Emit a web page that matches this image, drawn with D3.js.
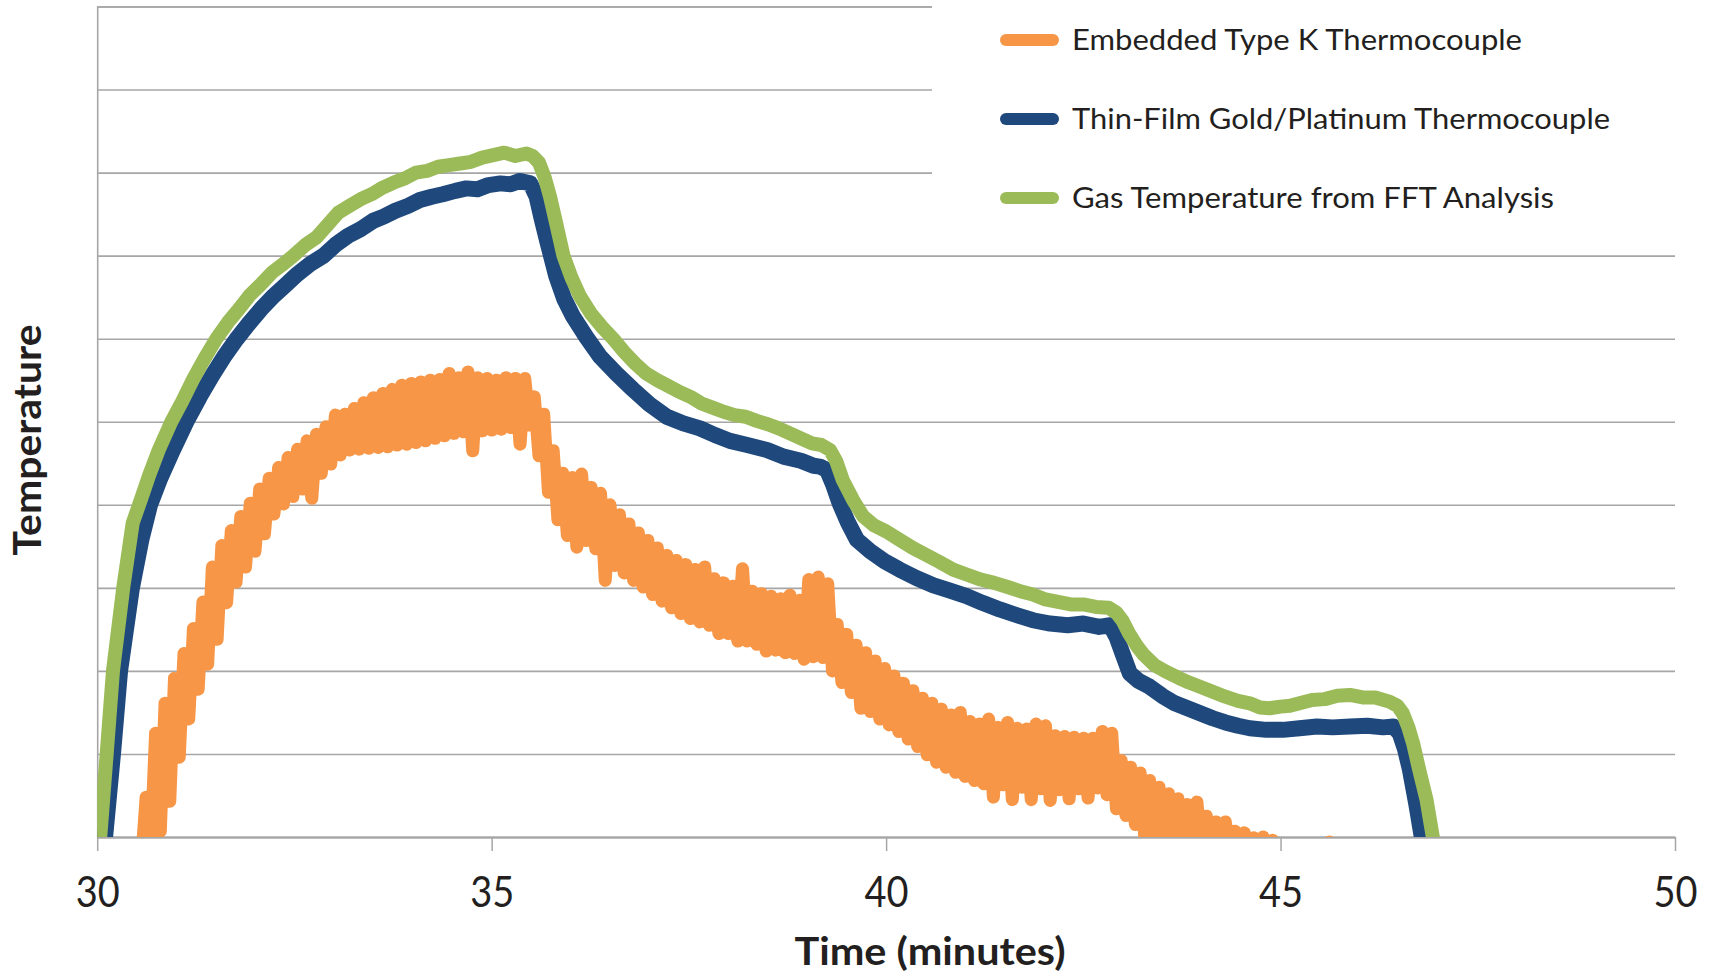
<!DOCTYPE html>
<html>
<head>
<meta charset="utf-8">
<script src="https://cdn.jsdelivr.net/npm/d3@7"></script>
<style>
  html, body { margin: 0; padding: 0; background: #ffffff; }
  svg { display: block; }
  text { font-family: Lato, "Open Sans", "Noto Sans", sans-serif; fill: #231f20; }
</style>
</head>
<body>
<svg id="chart" width="1713" height="972"></svg>
<script>
// ---- Axes ----
const timeDomain = [30, 50];
const timeTicks = [30, 35, 40, 45, 50];
// Temperature has no printed scale; values are in gridline units
const tempDomain = [0, 10];
const tempGrid = [0, 1, 2, 3, 4, 5, 6, 7, 8, 9, 10];

const axisTitleX = "Time (minutes)";
const axisTitleY = "Temperature";

const seriesNames = [
  "Embedded Type K Thermocouple",
  "Thin-Film Gold/Platinum Thermocouple",
  "Gas Temperature from FFT Analysis"
];
const seriesColors = ["#F79646", "#1F497D", "#9BBB59"];

// ---- Embedded Type K thermocouple: evenly sampled, noisy readings ----
const typeKStart = 30.50;   // minutes
const typeKStep = 0.06;     // minutes between samples
const typeKValues = [
  -0.30, -0.33, 0.48, -0.13, 1.25, 0.07, 1.61, 0.43, 1.91, 0.96,
  2.21, 1.42, 2.51, 1.78, 2.83, 2.08, 3.25, 2.38, 3.51, 2.82,
  3.69, 3.07, 3.86, 3.25, 4.02, 3.44, 4.19, 3.65, 4.32, 3.89,
  4.45, 4.01, 4.57, 4.10, 4.67, 4.19, 4.77, 4.08, 4.85, 4.38,
  4.94, 4.49, 5.08, 4.60, 5.09, 4.66, 5.16, 4.67, 5.23, 4.68,
  5.29, 4.69, 5.34, 4.70, 5.39, 4.72, 5.44, 4.73, 5.46, 4.75,
  5.48, 4.77, 5.50, 4.80, 5.51, 4.83, 5.58, 4.86, 5.53, 4.88,
  5.60, 4.65, 5.53, 4.89, 5.52, 4.90, 5.50, 4.91, 5.53, 4.93,
  5.52, 4.73, 5.52, 4.96, 5.30, 4.59, 5.09, 4.15, 4.65, 3.82,
  4.38, 3.63, 4.33, 3.49, 4.37, 3.57, 4.21, 3.47, 4.14, 3.09,
  4.00, 3.27, 3.88, 3.18, 3.77, 3.09, 3.66, 3.01, 3.57, 2.92,
  3.48, 2.84, 3.39, 2.76, 3.33, 2.69, 3.28, 2.63, 3.22, 2.59,
  3.25, 2.55, 3.11, 2.45, 3.06, 2.45, 3.02, 2.36, 3.23, 2.36,
  2.96, 2.32, 2.93, 2.24, 2.90, 2.25, 2.87, 2.22, 2.91, 2.21,
  2.85, 2.14, 3.10, 2.17, 3.13, 2.16, 3.05, 2.00, 2.56, 1.86,
  2.44, 1.74, 2.31, 1.55, 2.22, 1.51, 2.12, 1.42, 2.03, 1.35,
  1.94, 1.27, 1.85, 1.18, 1.76, 1.09, 1.67, 0.99, 1.61, 0.90,
  1.54, 0.84, 1.47, 0.78, 1.50, 0.73, 1.39, 0.68, 1.36, 0.64,
  1.42, 0.48, 1.32, 0.63, 1.38, 0.45, 1.31, 0.60, 1.30, 0.45,
  1.36, 0.58, 1.34, 0.44, 1.22, 0.57, 1.21, 0.46, 1.20, 0.58,
  1.19, 0.47, 1.19, 0.59, 1.27, 0.51, 1.25, 0.34, 0.92, 0.26,
  0.84, 0.15, 0.77, -0.02, 0.68, -0.13, 0.60, -0.15, 0.52, -0.15,
  0.46, -0.15, 0.39, -0.15, 0.42, -0.20, 0.25, -0.20, 0.18, -0.20,
  0.18, -0.20, 0.07, -0.20, 0.05, -0.20, -0.01, -0.20, 0.00, -0.20,
  -0.04, -0.20, -0.12, -0.20, -0.15, -0.20, -0.15, -0.20, -0.15, -0.20,
  -0.12, -0.20, -0.06
];

// ---- Thin-film gold/platinum thermocouple: [minutes, value] ----
const thinFilm = [
  [30.06, -0.30], [30.10, 0.00], [30.20, 1.00], [30.29, 2.00], [30.44, 3.00],
  [30.56, 3.58], [30.67, 4.00], [30.80, 4.32], [30.96, 4.66], [31.13, 5.00],
  [31.30, 5.30], [31.46, 5.56], [31.62, 5.80], [31.77, 6.00], [31.92, 6.18],
  [32.08, 6.36], [32.22, 6.50], [32.38, 6.64], [32.54, 6.78], [32.70, 6.90],
  [32.87, 7.00], [33.02, 7.13], [33.18, 7.24], [33.34, 7.32], [33.50, 7.42],
  [33.63, 7.47], [33.78, 7.54], [33.94, 7.60], [34.09, 7.67], [34.24, 7.71],
  [34.38, 7.74], [34.54, 7.78], [34.68, 7.81], [34.82, 7.80], [34.96, 7.85],
  [35.11, 7.87], [35.24, 7.86], [35.36, 7.90], [35.49, 7.87], [35.57, 7.71],
  [35.63, 7.46], [35.70, 7.19], [35.82, 6.75], [35.92, 6.48], [36.03, 6.27],
  [36.20, 6.02], [36.37, 5.79], [36.58, 5.58], [36.79, 5.39], [37.00, 5.21],
  [37.22, 5.06], [37.43, 4.98], [37.64, 4.92], [37.83, 4.84], [38.02, 4.77],
  [38.24, 4.72], [38.49, 4.66], [38.70, 4.58], [38.92, 4.53], [39.08, 4.47],
  [39.16, 4.46], [39.25, 4.42], [39.33, 4.24], [39.41, 4.02], [39.52, 3.78],
  [39.63, 3.58], [39.80, 3.44], [39.98, 3.32], [40.17, 3.22], [40.38, 3.12],
  [40.60, 3.03], [40.80, 2.97], [41.02, 2.90], [41.22, 2.82], [41.44, 2.74],
  [41.66, 2.67], [41.86, 2.61], [42.08, 2.57], [42.30, 2.55], [42.50, 2.57],
  [42.70, 2.53], [42.84, 2.55], [42.92, 2.41], [43.00, 2.20], [43.09, 1.97],
  [43.20, 1.88], [43.34, 1.81], [43.50, 1.70], [43.66, 1.61], [43.82, 1.55],
  [43.98, 1.49], [44.14, 1.43], [44.30, 1.38], [44.46, 1.34], [44.61, 1.31],
  [44.82, 1.29], [45.03, 1.29], [45.24, 1.31], [45.46, 1.33], [45.66, 1.32],
  [45.88, 1.33], [46.10, 1.34], [46.30, 1.32], [46.43, 1.33], [46.51, 1.25],
  [46.58, 1.05], [46.64, 0.81], [46.72, 0.40], [46.79, 0.00], [46.84, -0.25]
];

// ---- Gas temperature from FFT analysis: [minutes, value] ----
const gasTemp = [
  [30.00, -0.25], [30.04, 0.02], [30.12, 1.00], [30.20, 2.00], [30.33, 3.00],
  [30.45, 3.78], [30.56, 4.08], [30.66, 4.36], [30.78, 4.66], [30.94, 5.00],
  [31.08, 5.25], [31.22, 5.52], [31.36, 5.76], [31.51, 6.00], [31.66, 6.20],
  [31.80, 6.36], [31.94, 6.53], [32.08, 6.66], [32.22, 6.80], [32.36, 6.90],
  [32.50, 7.01], [32.64, 7.13], [32.78, 7.22], [32.92, 7.37], [33.06, 7.52],
  [33.20, 7.60], [33.34, 7.68], [33.48, 7.74], [33.62, 7.82], [33.76, 7.88],
  [33.90, 7.93], [34.04, 8.00], [34.18, 8.02], [34.32, 8.07], [34.46, 8.09],
  [34.60, 8.11], [34.74, 8.13], [34.88, 8.18], [35.02, 8.21], [35.16, 8.24],
  [35.30, 8.20], [35.44, 8.23], [35.52, 8.20], [35.60, 8.12], [35.67, 7.95],
  [35.74, 7.71], [35.82, 7.38], [35.91, 7.00], [36.01, 6.74], [36.12, 6.51],
  [36.26, 6.30], [36.40, 6.14], [36.54, 6.00], [36.68, 5.84], [36.82, 5.70],
  [36.96, 5.58], [37.10, 5.50], [37.24, 5.43], [37.38, 5.36], [37.52, 5.30],
  [37.66, 5.22], [37.80, 5.17], [37.94, 5.12], [38.08, 5.08], [38.22, 5.06],
  [38.36, 5.01], [38.50, 4.97], [38.64, 4.92], [38.78, 4.86], [38.92, 4.80],
  [39.06, 4.74], [39.18, 4.72], [39.29, 4.66], [39.37, 4.52], [39.45, 4.30],
  [39.58, 4.06], [39.71, 3.86], [39.85, 3.75], [40.00, 3.68], [40.17, 3.58],
  [40.34, 3.48], [40.50, 3.40], [40.68, 3.31], [40.85, 3.22], [41.02, 3.16],
  [41.20, 3.10], [41.37, 3.06], [41.54, 3.01], [41.70, 2.96], [41.86, 2.92],
  [42.02, 2.86], [42.18, 2.83], [42.34, 2.80], [42.50, 2.80], [42.66, 2.77],
  [42.82, 2.76], [42.92, 2.70], [43.00, 2.60], [43.08, 2.45], [43.18, 2.30],
  [43.26, 2.20], [43.40, 2.07], [43.55, 1.99], [43.70, 1.92], [43.84, 1.86],
  [43.98, 1.81], [44.14, 1.75], [44.30, 1.69], [44.46, 1.64], [44.61, 1.61],
  [44.74, 1.56], [44.86, 1.55], [45.00, 1.57], [45.12, 1.58], [45.24, 1.61],
  [45.40, 1.65], [45.56, 1.66], [45.72, 1.70], [45.88, 1.71], [46.04, 1.68],
  [46.20, 1.68], [46.38, 1.63], [46.48, 1.58], [46.55, 1.49], [46.62, 1.32],
  [46.68, 1.13], [46.76, 0.80], [46.85, 0.45], [46.93, 0.00], [46.98, -0.25]
];

// ---- Layout ----
const plot = { left: 97.2, right: 1675, top: 6.5, bottom: 837 };
const gridColor = "#a6a6a6";
const lineWidths = [13, 16, 14];

const svg = d3.select("#chart");

const x = d3.scaleLinear().domain(timeDomain).range([plot.left, plot.right]);
const y = d3.scaleLinear().domain(tempDomain).range([plot.bottom, plot.top]);

// Horizontal gridlines
const grid = svg.append("g")
  .attr("transform", `translate(${plot.left},0)`)
  .call(d3.axisLeft(y).tickValues(tempGrid).tickSize(-(plot.right - plot.left)).tickFormat(""));
grid.select(".domain").attr("stroke", gridColor).attr("stroke-width", 1.6);
grid.selectAll(".tick line").attr("stroke", gridColor).attr("stroke-width", 1.6);

// Time axis with ticks
const xAxis = svg.append("g")
  .attr("transform", `translate(0,${plot.bottom})`)
  .call(d3.axisBottom(x).tickValues(timeTicks).tickSize(14).tickSizeOuter(0).tickFormat(d3.format("d")));
xAxis.select(".domain").attr("stroke", gridColor).attr("stroke-width", 2);
xAxis.selectAll(".tick line").attr("stroke", gridColor).attr("stroke-width", 1.5);
xAxis.selectAll(".tick text")
  .attr("y", 70).attr("dy", 0)
  .attr("font-family", "Lato, 'Open Sans', sans-serif")
  .attr("font-size", 42)
  .attr("fill", "#231f20")
  .attr("textLength", 44)
  .attr("lengthAdjust", "spacingAndGlyphs");

// Clip the data traces to the plotting area
svg.append("defs").append("clipPath").attr("id", "plot-clip")
  .append("rect")
  .attr("x", plot.left).attr("y", 0)
  .attr("width", plot.right - plot.left).attr("height", plot.bottom);

// Legend sits on a white panel over the upper gridlines
const legendPanel = { x: 932, y: 0, w: plot.right - 932, h: 238 };
svg.append("rect")
  .attr("x", legendPanel.x).attr("y", legendPanel.y)
  .attr("width", legendPanel.w).attr("height", legendPanel.h)
  .attr("fill", "#ffffff");

const typeK = typeKValues.map((v, i) => [typeKStart + i * typeKStep, v]);
const seriesData = [typeK, thinFilm, gasTemp];

const line = d3.line().x(d => x(d[0])).y(d => y(d[1]));

svg.append("g").attr("clip-path", "url(#plot-clip)")
  .selectAll("path")
  .data(seriesData)
  .join("path")
  .attr("d", line)
  .attr("fill", "none")
  .attr("stroke", (d, i) => seriesColors[i])
  .attr("stroke-width", (d, i) => lineWidths[i])
  .attr("stroke-linejoin", "round")
  .attr("stroke-linecap", "round");

// Legend entries
const legendLayout = { swatchX1: 1006, swatchX2: 1053, textX: 1072, firstY: 40, rowGap: 79, fontSize: 29 };
const legendTextLengths = [450, 538, 482];
const legend = svg.append("g");
seriesNames.forEach((name, i) => {
  const cy = legendLayout.firstY + i * legendLayout.rowGap;
  legend.append("line")
    .attr("x1", legendLayout.swatchX1).attr("x2", legendLayout.swatchX2)
    .attr("y1", cy).attr("y2", cy)
    .attr("stroke", seriesColors[i])
    .attr("stroke-width", 12)
    .attr("stroke-linecap", "round");
  legend.append("text")
    .attr("x", legendLayout.textX)
    .attr("y", cy + 10)
    .attr("font-size", legendLayout.fontSize)
    .attr("textLength", legendTextLengths[i])
    .attr("lengthAdjust", "spacingAndGlyphs")
    .text(name);
});

// Axis titles
svg.append("text")
  .attr("x", 930).attr("y", 965)
  .attr("text-anchor", "middle")
  .attr("font-size", 39).attr("font-weight", "bold")
  .attr("textLength", 271).attr("lengthAdjust", "spacingAndGlyphs")
  .text(axisTitleX);

svg.append("text")
  .attr("transform", "translate(41,440) rotate(-90)")
  .attr("text-anchor", "middle")
  .attr("font-size", 39).attr("font-weight", "bold")
  .attr("textLength", 231).attr("lengthAdjust", "spacingAndGlyphs")
  .text(axisTitleY);
</script>
</body>
</html>
